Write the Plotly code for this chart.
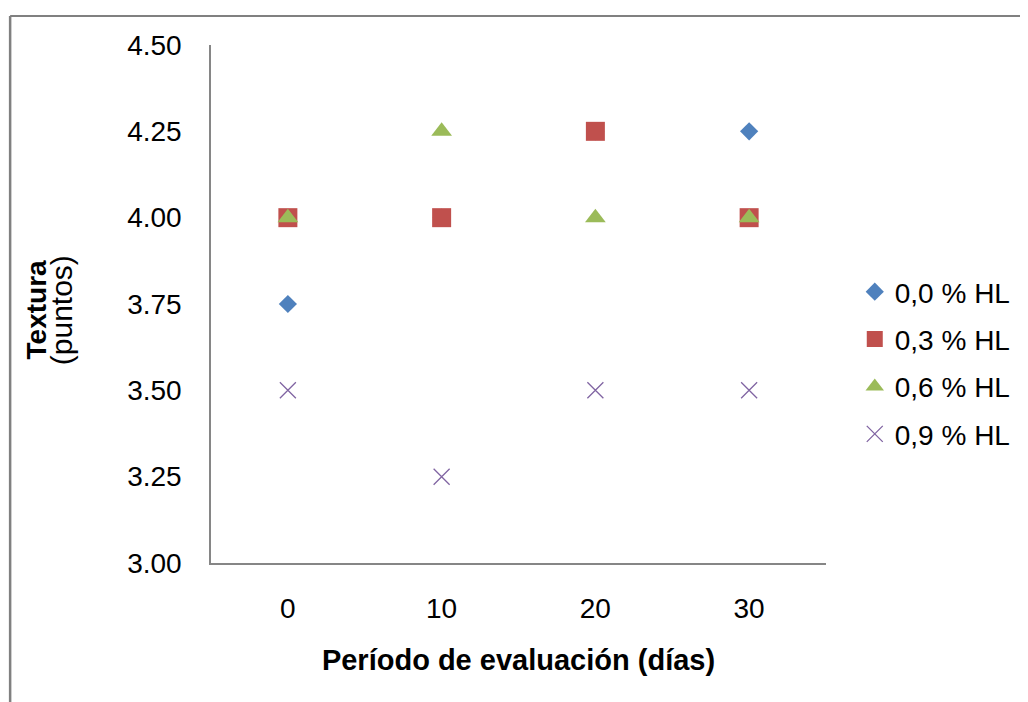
import plotly.graph_objects as go

dias = [0, 10, 20, 30]
hl_00 = [3.75, 4.00, 4.25, 4.25]
hl_03 = [4.00, 4.00, 4.25, 4.00]
hl_06 = [4.00, 4.25, 4.00, 4.00]
hl_09 = [3.50, 3.25, 3.50, 3.50]

series = [
    ("0,0 % HL", hl_00, "#4F81BD", "diamond", 14),
    ("0,3 % HL", hl_03, "#C0504D", "square", 19),
    ("0,6 % HL", hl_06, "#9BBB59", "triangle-up", 18),
    ("0,9 % HL", hl_09, "#8064A2", "x-thin", 16),
]

fig = go.Figure()
for i, (name, vals, color, sym, size) in enumerate(series):
    marker = dict(color=color, symbol=sym, size=size)
    if sym == "x-thin":
        marker["line"] = dict(color=color, width=1.3)
    fig.add_trace(go.Scatter(x=dias, y=vals, mode="markers", name=name,
                             marker=marker, legendgroup=f"g{i}"))

OFF = 8  # browser body margin
W, H = 1028 - OFF, 702 - OFF
L, R, T, B = 211 - OFF, 831 - OFF, 45 - OFF, 563 - OFF
pw, ph = R - L, B - T

def px(x):
    return (x - OFF - L) / pw

def py(y):
    return (B - (y - OFF)) / ph

fig.update_layout(
    width=W, height=H,
    margin=dict(l=L, r=W - R, t=T, b=H - B, pad=0),
    paper_bgcolor="white", plot_bgcolor="white",
    font=dict(family="Liberation Sans, Arial, sans-serif", size=28, color="black"),
    showlegend=True,
    legend=dict(x=px(860), y=py(267), xanchor="left", yanchor="top",
                font=dict(size=28), tracegroupgap=8, itemwidth=30,
                bgcolor="rgba(0,0,0,0)"),
    xaxis=dict(range=[-5, 35], tickvals=dias, ticktext=[str(d) for d in dias],
               showgrid=False, zeroline=False, showline=True, linecolor="#868686",
               linewidth=1.5, ticks="", tickfont=dict(size=28),
               ticklabelstandoff=20,
               title=dict(text="<b>Período de evaluación (días)</b>", font=dict(size=29),
                          standoff=26)),
    yaxis=dict(range=[3.0, 4.5], tickvals=[3.0, 3.25, 3.5, 3.75, 4.0, 4.25, 4.5],
               tickformat=".2f", showgrid=False, zeroline=False, showline=True,
               linecolor="#868686", linewidth=1.5, ticks="", tickfont=dict(size=28),
               ticklabelstandoff=22),
    shapes=[
        dict(type="line", xref="paper", yref="paper", x0=px(8.5), x1=px(1040),
             y0=py(16), y1=py(16), line=dict(color="#808080", width=2)),
        dict(type="line", xref="paper", yref="paper", x0=px(8.5), x1=px(8.5),
             y0=py(16), y1=py(710), line=dict(color="#808080", width=2.5)),
    ],
    annotations=[
        dict(text="<b>Textura</b>", xref="paper", yref="paper",
             x=px(35), y=py(310), textangle=-90, showarrow=False,
             font=dict(size=28), xanchor="center", yanchor="middle"),
        dict(text="(puntos)", xref="paper", yref="paper",
             x=px(60), y=py(310), textangle=-90, showarrow=False,
             font=dict(size=30), xanchor="center", yanchor="middle"),
    ],
)

fig.write_html("out.html")
